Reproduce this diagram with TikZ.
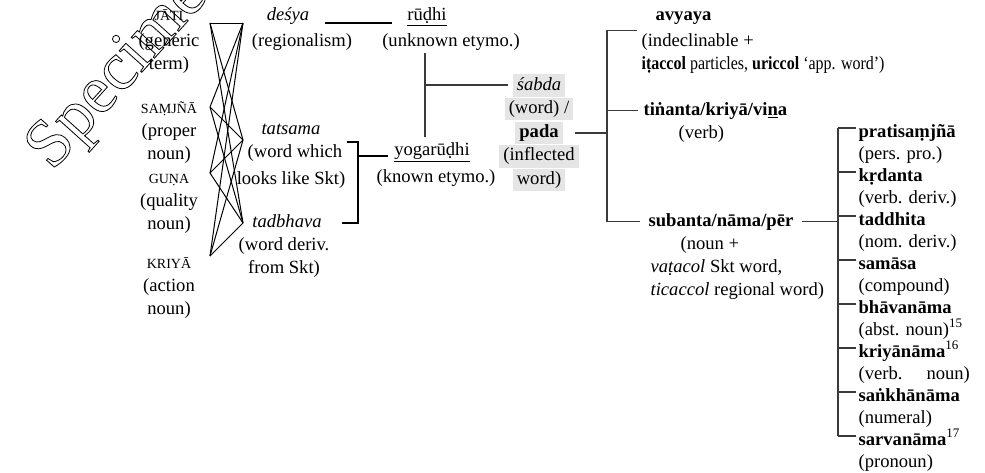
\documentclass[tikz,border=0pt]{standalone}
\usepackage{fontspec}
\setmainfont{Liberation Serif}
\usetikzlibrary{positioning}
\definecolor{shade}{HTML}{E5E5E5}
\definecolor{brgray}{HTML}{3A3A3A}
\newcommand{\outlined}[1]{\special{pdf:literal direct 1 Tr 0.4 w}#1\special{pdf:literal direct 0 Tr}}

\begin{document}
\begin{tikzpicture}[x=0.5pt,y=-0.5pt,line width=0.6pt,
  ln/.style={inner sep=0pt,text height=7.7pt,text depth=3.3pt,font=\fontsize{9.3}{11}\selectfont},
  sc/.style={ln,font=\fontsize{7}{11}\selectfont},
  hl/.style={ln,fill=shade,inner xsep=2pt,inner ysep=0.1pt},
  nm/.style={ln,font=\fontsize{9.3}{11}\selectfont\bfseries,text height=9pt,text depth=0pt},
  brk/.style={draw=brgray,line width=0.7pt}]
  \useasboundingbox (0,0) rectangle (985,472);

  % watermark
  \node[rotate=48,anchor=base west,inner sep=0pt,font=\fontsize{34}{34}\selectfont] (wm) at (52,172) {\outlined{Specimen}};

  % left column
  \node[sc,anchor=base] (jati) at (169,20) {JĀTI};
  \node[ln,below=1.5pt of jati] (jati2) {(generic};
  \node[ln,below=0pt of jati2] (jati3) {term)};

  \node[sc,anchor=base] (samj) at (169,113) {SAṂJÑĀ};
  \node[ln,below=0pt of samj] (samj2) {(proper};
  \node[ln,below=0pt of samj2] (samj3) {noun)};

  \node[sc,anchor=base] (guna) at (169,183) {GUṆA};
  \node[ln,below=0pt of guna] (guna2) {(quality};
  \node[ln,below=0pt of guna2] (guna3) {noun)};

  \node[sc,anchor=base] (kriya) at (169,268) {KRIYĀ};
  \node[ln,below=0pt of kriya] (kriya2) {(action};
  \node[ln,below=0pt of kriya2] (kriya3) {noun)};

  % crossing
  \coordinate (jati-x) at (210,23);
  \coordinate (samj-x) at (210,107);
  \coordinate (guna-x) at (210,173);
  \coordinate (kriya-x) at (210,256);
  \coordinate (desya-x) at (243,23);
  \coordinate (tats-x) at (243,140);
  \coordinate (tadb-x) at (243,223);

  \path[line width=0.5pt]
  (jati-x) edge (desya-x)
  (jati-x) edge (tats-x)
  (jati-x) edge (tadb-x)

  (samj-x) edge (desya-x)
  (samj-x) edge (tats-x)
  (samj-x) edge (tadb-x)

  (guna-x) edge (desya-x)
  (guna-x) edge (tats-x)
  (guna-x) edge (tadb-x)

  (kriya-x) edge (desya-x)
  (kriya-x) edge (tats-x)
  (kriya-x) edge (tadb-x)
  ;

  % middle
  \node[ln,anchor=base] (desya) at (288,20) {\textit{deśya}};
  \node[ln,below=1.5pt of desya,xshift=7pt] (desya2) {(regionalism)};

  \node[ln,anchor=base] (tats) at (291,134) {\textit{tatsama}};
  \node[ln,below=0pt of tats,xshift=2pt] (tats2) {(word which};
  \node[ln,below=2pt of tats2,xshift=-2pt] (tats3) {looks like Skt)};

  \node[ln,anchor=base] (tadb) at (287,227) {\textit{tadbhava}};
  \node[ln,below=0pt of tadb,xshift=-1.5pt] (tadb2) {(word deriv.};
  \node[ln,below=0pt of tadb2] (tadb3) {from Skt)};

  \node[ln,anchor=base] (rudhi) at (427,20) {\underline{rūḍhi}};
  \node[ln,below=1.5pt of rudhi,xshift=12pt] (rudhi2) {(unknown etymo.)};

  \node[ln,anchor=base] (yoga) at (432,155) {\underline{yogarūḍhi}};
  \node[ln,below=2pt of yoga,xshift=2pt] (yoga2) {(known etymo.)};

  \coordinate (dr-a) at (325,23);
  \draw[shorten >=7.5pt] (dr-a) -- (dr-a -| rudhi.west);

  \coordinate (tb-top) at (347,142);
  \coordinate (tb-mid) at (358,156);
  \coordinate (tb-bot) at (342,223);
  \draw (tb-top) -- (tb-top -| tb-mid) -- (tb-bot -| tb-mid) -- (tb-bot);
  \draw[shorten >=3pt] (tb-mid) -- (tb-mid -| yoga.west);

  % sabda / pada
  \node[hl,anchor=base] (sabda) at (539,90) {\textit{śabda}};
  \node[hl,below=0pt of sabda] (sabda2) {(word) /};
  \node[hl,below=0pt of sabda2] (pada) {\textbf{pada}};
  \node[hl,below=0pt of pada] (sabda4) {(inflected};
  \node[hl,below=0pt of sabda4] (sabda5) {word)};

  \coordinate (rv-top) at (425,53);
  \coordinate (rv-mid) at (425,85);
  \coordinate (rv-bot) at (425,137);
  \draw[brk] (rv-top) -- (rv-bot);
  \draw[brk,shorten >=2pt] (rv-mid) -- (rv-mid -| sabda.west);

  % avyaya, tinanta, subanta
  \node[ln,anchor=base west] (av) at (655,20) {\textbf{avyaya}};
  \node[ln,anchor=north west] (ind) at ([xshift=-7pt,yshift=-1.5pt]av.south west) {(indeclinable +};
  \node[ln,anchor=north west] (ita) at (ind.south west) {\scalebox{0.86}[1]{\textbf{iṭaccol} particles, \textbf{uriccol} ‘app. word’)}};

  \node[ln,anchor=base west] (tv) at (643,115) {\textbf{tiṅanta/kriyā/vi\underline{n}a}};
  \node[ln,anchor=north west] (tv2) at ([xshift=17.5pt]tv.south west) {(verb)};

  \node[ln,anchor=base west] (subh) at (648,226) {\textbf{subanta/nāma/pēr}};
  \node[ln,anchor=north west] (sub2) at ([xshift=16pt]subh.south west) {(noun +};
  \node[ln,anchor=north west] (sub3) at ([xshift=-15pt]sub2.south west) {\textit{vaṭacol} Skt word,};
  \node[ln,anchor=north west] (sub4) at (sub3.south west) {\textit{ticaccol} regional word)};

  \coordinate (pbr) at (607,0);
  \draw[brk,shorten <=6pt] (pada.east) -- (pada.east -| pbr);
  \draw[brk] ([xshift=-2pt]ind.north west) -- (pbr |- ind.north) -- (pbr |- subh.west) -- ([xshift=-4pt]subh.west);
  \draw[brk] (pbr |- tv.west) -- ([xshift=-2.5pt]tv.west);

  % right column
  \node[nm,anchor=base west] (pra) at (858,137) {pratisaṃjñā};
  \node[ln,anchor=base west] (pra2) at ([yshift=-11pt]pra.base west) {(pers. pro.)};
  \node[nm,anchor=base west] (krd) at ([yshift=-11pt]pra2.base west) {kṛdanta};
  \node[ln,anchor=base west] (krd2) at ([yshift=-11pt]krd.base west) {(verb. deriv.)};
  \node[nm,anchor=base west] (tad) at ([yshift=-11pt]krd2.base west) {taddhita};
  \node[ln,anchor=base west] (tad2) at ([yshift=-11pt]tad.base west) {(nom. deriv.)};
  \node[nm,anchor=base west] (sam) at ([yshift=-11pt]tad2.base west) {samāsa};
  \node[ln,anchor=base west] (sam2) at ([yshift=-11pt]sam.base west) {(compound)};
  \node[nm,anchor=base west] (bha) at ([yshift=-11pt]sam2.base west) {bhāvanāma};
  \node[ln,anchor=base west] (bha2) at ([yshift=-11pt]bha.base west) {(abst. noun)\textsuperscript{15}};
  \node[nm,anchor=base west] (kri) at ([yshift=-11pt]bha2.base west) {kriyānāma\textsuperscript{\mdseries 16}};
  \node[ln,anchor=base west] (kri2) at ([yshift=-11pt]kri.base west) {(verb.\hspace{12pt}noun)};
  \node[nm,anchor=base west] (san) at ([yshift=-11pt]kri2.base west) {saṅkhānāma};
  \node[ln,anchor=base west] (san2) at ([yshift=-11pt]san.base west) {(numeral)};
  \node[nm,anchor=base west] (sar) at ([yshift=-11pt]san2.base west) {sarvanāma\textsuperscript{\mdseries 17}};
  \node[ln,anchor=base west] (sar2) at ([yshift=-11pt]sar.base west) {(pronoun)};

  \coordinate (sbr) at (838,0);
  \draw[brk,shorten <=4pt] (subh.east) -- (subh.east -| sbr);
  \draw[brk] (sbr |- pra.west) -- (sbr |- sar.west);
  \draw[brk] (sbr |- pra.west) -- ([xshift=-1pt]pra.west);
  \draw[brk] (sbr |- krd.west) -- ([xshift=-1pt]krd.west);
  \draw[brk] (sbr |- tad.west) -- ([xshift=-1pt]tad.west);
  \draw[brk] (sbr |- sam.west) -- ([xshift=-1pt]sam.west);
  \draw[brk] (sbr |- bha.west) -- ([xshift=-1pt]bha.west);
  \draw[brk] (sbr |- kri.west) -- ([xshift=-1pt]kri.west);
  \draw[brk] (sbr |- san.west) -- ([xshift=-1pt]san.west);
  \draw[brk] (sbr |- sar.west) -- ([xshift=-1pt]sar.west);
\end{tikzpicture}
\end{document}
